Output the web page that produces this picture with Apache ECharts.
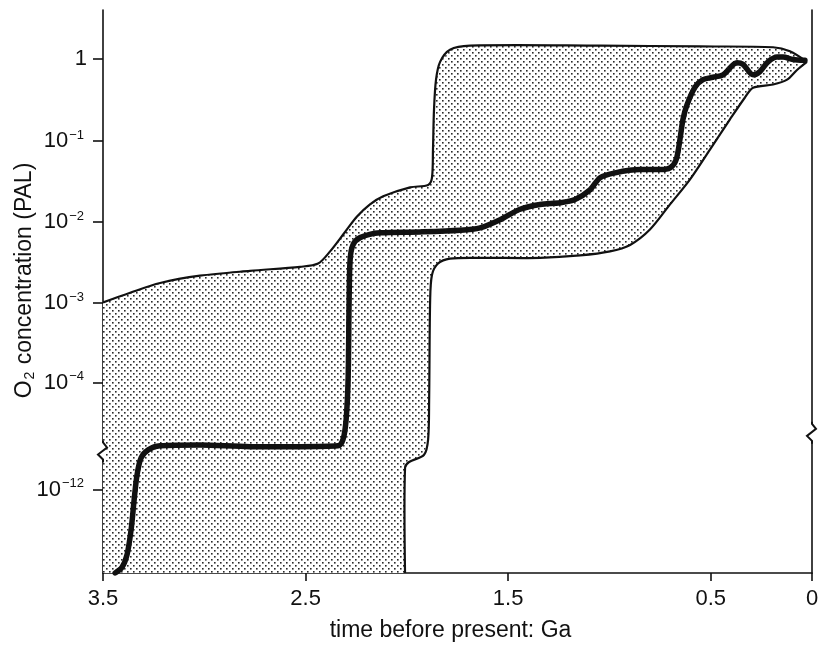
<!DOCTYPE html>
<html>
<head>
<meta charset="utf-8">
<script src="https://cdn.jsdelivr.net/npm/echarts@6/dist/echarts.min.js"></script>
<style>html,body{margin:0;padding:0;background:#fff;}#c{width:818px;height:648px;}</style>
</head>
<body>
<div id="c"></div>
<script>
// x: time before present (Ga); y: position in decades of O2 (PAL) on the broken axis
const timeTicks = [3.5, 2.5, 1.5, 0.5, 0];
const yTickPos = [0, -1.02, -2.02, -3.02, -4.0, -5.32];
const yTickExp = ['', '\u22121', '\u22122', '\u22123', '\u22124', '\u221212'];
const yMin = -6.35, yMax = 0.6;
const breakLevelLeft = -4.85, breakLevelRight = -4.62;

const upperT = [3.5, 3.366, 3.218, 3.021, 2.774, 2.527, 2.438, 2.379, 2.305, 2.246, 2.182, 2.117, 1.984, 1.895, 1.876, 1.871, 1.866, 1.856, 1.836, 1.787, 1.688, 1.046, 0.553, 0.192, 0.109, 0.025];
const upperP = [-3.01, -2.89, -2.77, -2.68, -2.62, -2.57, -2.53, -2.38, -2.14, -1.95, -1.80, -1.70, -1.59, -1.56, -1.47, -1.12, -0.63, -0.26, -0.04, 0.11, 0.16, 0.16, 0.15, 0.14, 0.09, -0.04];

const lowerT = [2.009, 2.009, 1.989, 1.915, 1.895, 1.890, 1.885, 1.876, 1.846, 1.787, 1.639, 1.343, 1.145, 0.997, 0.898, 0.800, 0.701, 0.602, 0.503, 0.405, 0.331, 0.291, 0.192, 0.123, 0.074, 0.025];
const lowerP = [-6.35, -5.05, -4.98, -4.89, -4.70, -4.21, -2.98, -2.67, -2.53, -2.47, -2.46, -2.46, -2.43, -2.38, -2.30, -2.11, -1.80, -1.49, -1.12, -0.75, -0.48, -0.36, -0.32, -0.26, -0.14, -0.04];

const medianT = [3.440, 3.406, 3.381, 3.361, 3.346, 3.332, 3.312, 3.277, 3.218, 3.021, 2.774, 2.527, 2.340, 2.315, 2.300, 2.290, 2.285, 2.280, 2.266, 2.231, 2.132, 1.935, 1.737, 1.639, 1.540, 1.441, 1.343, 1.244, 1.170, 1.096, 1.046, 0.972, 0.849, 0.750, 0.701, 0.671, 0.652, 0.637, 0.617, 0.577, 0.538, 0.489, 0.439, 0.370, 0.341, 0.291, 0.257, 0.217, 0.173, 0.143, 0.094, 0.035];
const medianP = [-6.35, -6.28, -6.12, -5.81, -5.44, -5.14, -4.93, -4.83, -4.78, -4.77, -4.79, -4.79, -4.78, -4.70, -4.46, -3.96, -2.98, -2.48, -2.30, -2.21, -2.15, -2.14, -2.12, -2.09, -1.99, -1.86, -1.80, -1.78, -1.74, -1.62, -1.47, -1.41, -1.37, -1.37, -1.35, -1.25, -1.00, -0.75, -0.57, -0.35, -0.26, -0.23, -0.20, -0.05, -0.07, -0.20, -0.16, -0.04, 0.02, 0.02, -0.01, -0.02];

// stipple pattern
const pat = document.createElement('canvas');
pat.width = 6; pat.height = 6;
(function(){
  const g = pat.getContext('2d');
  g.fillStyle = '#fff'; g.fillRect(0,0,6,6);
  g.fillStyle = '#2a2a2a';
  g.fillRect(1,1,1.6,1.6);
  g.fillRect(4,4,1.6,1.6);
})();

const FONT = '"Liberation Sans", Arial, Helvetica, sans-serif';
const chart = echarts.init(document.getElementById('c'), null, {renderer: 'canvas'});

function yLabel(v) {
  let best = 0, bd = 1e9;
  yTickPos.forEach((p, i) => { const d = Math.abs(p - v); if (d < bd) { bd = d; best = i; } });
  if (bd > 0.01) return '';
  if (best === 0) return '{b|1}';
  return '{b|10}{s|' + yTickExp[best] + '}';
}

const option = {
  backgroundColor: '#fff',
  animation: false,
  grid: {left: 103, right: 6, top: 10, bottom: 75, containLabel: false, outerBoundsMode: 'none'},
  xAxis: {
    type: 'value', min: 0, max: 3.5, inverse: true,
    name: 'time before present: Ga', nameLocation: 'middle', nameGap: 46, nameMoveOverlap: false,
    nameTextStyle: {fontFamily: FONT, fontSize: 23, color: '#111', padding: [0, 14, 0, 0]},
    axisLine: {show: true, onZero: false, lineStyle: {color: '#111', width: 1.6}},
    axisTick: {show: true, customValues: timeTicks, length: 8, lineStyle: {color: '#111', width: 1.6}},
    axisLabel: {customValues: timeTicks, margin: 15, fontFamily: FONT, fontSize: 22, color: '#111',
      formatter: v => String(v)},
    splitLine: {show: false}
  },
  yAxis: [{
    type: 'value', min: yMin, max: yMax,
    name: '{a|O}{sub|2}{a| concentration (PAL)}', nameLocation: 'middle', nameGap: 66, nameMoveOverlap: false,
    nameTextStyle: {fontFamily: FONT, fontSize: 23, color: '#111', padding: [0, 0, 0, 22],
      rich: {a: {fontFamily: FONT, fontSize: 23, color: '#111'},
             sub: {fontFamily: FONT, fontSize: 14, color: '#111', padding: [11, 1, 0, 1]}}},
    axisLine: {show: true, onZero: false, lineStyle: {color: '#111', width: 1.6}},
    axisTick: {show: true, customValues: yTickPos, length: 10, lineStyle: {color: '#111', width: 1.6}},
    axisLabel: {customValues: yTickPos, margin: 16, formatter: yLabel,
      rich: {b: {fontFamily: FONT, fontSize: 22, color: '#111'},
             s: {fontFamily: FONT, fontSize: 13, color: '#111', padding: [0, 3, 12, 1]}}},
    splitLine: {show: false}
  }, {
    type: 'value', min: yMin, max: yMax, position: 'right',
    axisLine: {show: true, onZero: false, lineStyle: {color: '#111', width: 1.6}},
    axisTick: {show: false}, axisLabel: {show: false}, splitLine: {show: false}
  }],
  series: [{
    type: 'custom', name: 'envelope', coordinateSystem: 'cartesian2d', data: [[0, 0]],
    clip: true, z: 1,
    renderItem: function (params, api) {
      const up = upperT.map((t, i) => api.coord([t, upperP[i]]));
      const lo = lowerT.map((t, i) => api.coord([t, lowerP[i]]));
      const poly = up.concat(lo.slice().reverse()).concat([api.coord([3.5, yMin])]);
      return {type: 'group', children: [
        {type: 'polygon', shape: {points: poly, smooth: 0}, style: {fill: {image: pat, repeat: 'repeat'}}},
        {type: 'polyline', shape: {points: up, smooth: 0.3}, style: {stroke: '#111', lineWidth: 2.2, fill: null}},
        {type: 'polyline', shape: {points: lo, smooth: 0.3}, style: {stroke: '#111', lineWidth: 2.2, fill: null}}
      ]};
    }
  }, {
    type: 'line', name: 'median', data: medianT.map((t, i) => [t, medianP[i]]),
    showSymbol: false, smooth: 0.3, z: 3,
    lineStyle: {color: '#111', width: 5.5, cap: 'round', join: 'round'}
  }, {
    type: 'custom', name: 'breaks', coordinateSystem: 'cartesian2d',
    data: [[3.5, breakLevelLeft], [0, breakLevelRight]], clip: false, z: 10,
    renderItem: function (params, api) {
      const c = api.coord([api.value(0), api.value(1)]);
      const x = c[0], y = c[1];
      return {type: 'group', children: [
        {type: 'rect', shape: {x: x - 2, y: y - 10, width: 4, height: 20}, style: {fill: '#fff'}},
        {type: 'polyline', shape: {points: [[x, y - 11], [x, y - 9], [x + 4, y - 4], [x - 5, y + 3], [x, y + 8], [x, y + 11]]},
          style: {stroke: '#111', lineWidth: 2, fill: null}}
      ]};
    }
  }]
};
chart.setOption(option);
</script>
</body>
</html>
